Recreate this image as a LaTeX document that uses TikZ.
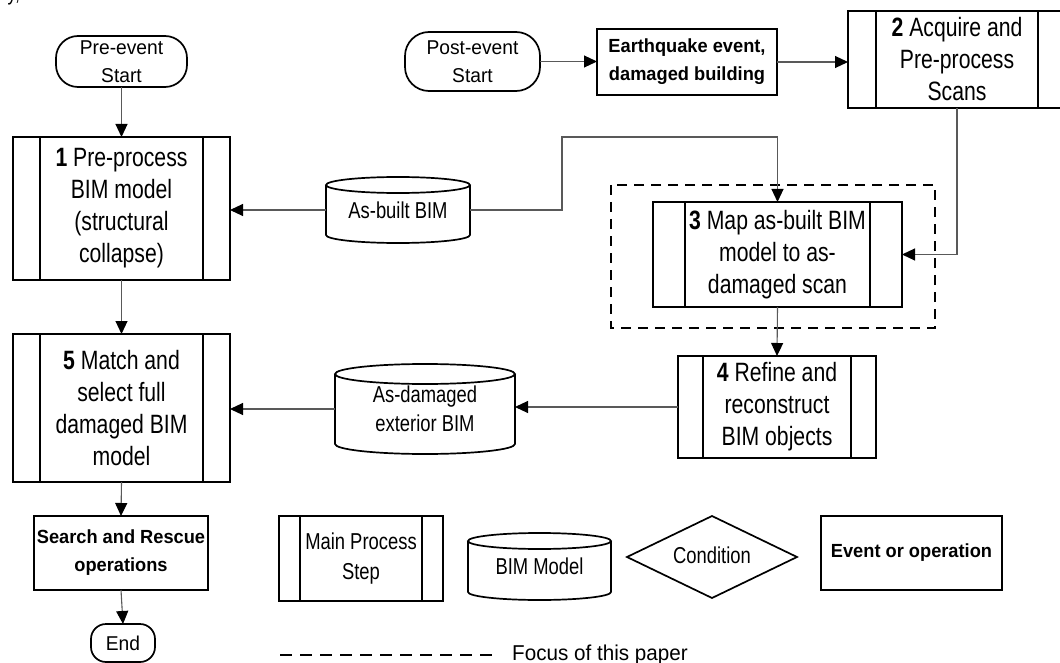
\documentclass[tikz,border=0pt]{standalone}
\usepackage{fontspec}
\setmainfont{Liberation Sans}[FakeStretch=0.8]
\newfontfamily\widefont{Liberation Sans}[FakeStretch=0.96]
\usetikzlibrary{arrows.meta,calc}
\tikzset{
  boxline/.style={draw=black, line width=1.7pt},
  proc/.style={boxline, rectangle, outer sep=0pt, inner sep=0pt, align=center,
    font=\fontsize{26.5}{32}\selectfont,
    path picture={\draw[line width=1.7pt]
      ([xshift=#1]path picture bounding box.north west) -- ([xshift=#1]path picture bounding box.south west)
      ([xshift=-#1]path picture bounding box.north east) -- ([xshift=-#1]path picture bounding box.south east);}},
  proc/.default=27pt,
  term/.style={boxline, rectangle, rounded corners=#1, outer sep=0pt, inner sep=0pt, align=center,
    font=\widefont\fontsize{20}{28}\selectfont},
  evt/.style={boxline, rectangle, outer sep=0pt, inner sep=0pt, align=center,
    font=\widefont\bfseries\fontsize{19}{28}\selectfont},
  cylbox/.style={rectangle, outer sep=0pt, inner sep=0pt, align=center,
    font=\fontsize{23}{29}\selectfont},
  conn/.style={draw=black!65, line width=1.1pt, -{Triangle[length=13pt,width=12pt,color=black]}},
  focus/.style={draw=black, line width=2.6pt, dash pattern=on 10pt off 7pt},
}
\newcommand\drawcyl[2]{%
  \draw[boxline] let \p1=(#1.north west), \p2=(#1.south east), \n1={(\x2-\x1)/2} in
    ({\x1},{\y1-#2pt}) -- ({\x1},{\y2+#2pt})
    arc[start angle=180, end angle=360, x radius=\n1, y radius=#2pt]
    -- ({\x2},{\y1-#2pt})
    ({\x1+\n1},{\y1-#2pt}) ellipse[x radius=\n1, y radius=#2pt];
}
\begin{document}
\begin{tikzpicture}[x=1pt,y=1pt]
\useasboundingbox (0,0) rectangle (1060,-663);
\clip (0,0) rectangle (1060,-663);
\fill[white] (0,0) rectangle (1060,-663);

\node[anchor=base west, font=\fontsize{22}{26}\selectfont] (frag) at (4,-0.5) {y,};

% focus frame
\draw[focus] (611,-185) rectangle (935,-328);

% main nodes
\node[term=22pt, minimum width=131pt, minimum height=51pt] (pre) at (121.5,-61.5) {Pre-event\\Start};
\node[proc, minimum width=217pt, minimum height=143pt] (b1) at (121.5,-208.5)
  {\textbf{1} Pre-process\\BIM model\\(structural\\collapse)};
\node[cylbox, minimum width=144pt, minimum height=66pt] (asb) at (398,-210) {As-built BIM};
\drawcyl{asb}{8}
\node[term=24pt, minimum width=135pt, minimum height=59pt] (post) at (472.5,-61.5) {Post-event\\Start};
\node[evt, minimum width=180pt, minimum height=66pt] (eq) at (687,-62) {Earthquake event,\\damaged building};
\node[proc=28pt, minimum width=218pt, minimum height=97pt] (b2) at (957,-59.5)
  {\textbf{2} Acquire and\\Pre-process\\Scans};
\node[proc=32pt, minimum width=249pt, minimum height=105pt] (b3) at (777.5,-254.5)
  {\textbf{3} Map as-built BIM\\model to as-\\damaged scan};
\node[proc=25pt, minimum width=198pt, minimum height=102pt] (b4) at (777,-407)
  {\textbf{4} Refine and\\reconstruct\\BIM objects};
\node[cylbox, minimum width=180pt, minimum height=90pt] (asd) at (425,-409) {As-damaged\\exterior BIM};
\drawcyl{asd}{10}
\node[proc, minimum width=217pt, minimum height=148pt] (b5) at (121.5,-408)
  {\textbf{5} Match and\\select full\\damaged BIM\\model};
\node[evt, minimum width=174pt, minimum height=74pt] (sar) at (121,-553) {Search and Rescue\\operations};
\node[term=15pt, minimum width=64pt, minimum height=38pt] (end) at (123,-643) {End};

% connectors
\draw[conn] (pre.south) -- (b1.north);
\draw[conn] (asb.west) -- (asb.west -| b1.east);
\draw[conn] (post.east) -- (post.east -| eq.west);
\draw[conn] (eq.east) -- (eq.east -| b2.west);
\draw[conn] (asb.east) -- ++(92,0) |- ($(b3.north)+(0,65)$) -- (b3.north);
\draw[conn] (b2.south) |- (b3.east);
\draw[conn] (b3.south) -- (b4.north);
\draw[conn] (b4.west) -- (b4.west -| asd.east);
\draw[conn] (asd.west) -- (asd.west -| b5.east);
\draw[conn] (b1.south) -- (b5.north);
\draw[conn] (b5.south) -- (sar.north);
\draw[conn] (sar.south) -- (end.north);

% legend
\node[proc=21pt, minimum width=164pt, minimum height=85pt, font=\fontsize{23}{30}\selectfont] (lproc) at (361,-558.5) {Main Process\\Step};
\node[cylbox, minimum width=143pt, minimum height=67pt] (lcyl) at (539.5,-566.5) {BIM Model};
\drawcyl{lcyl}{8}
\node[cylbox] (lcond) at (712,-555) {Condition};
\draw[boxline] (627,-557) -- (712,-516) -- (797,-557) -- (712,-598) -- cycle;
\node[evt, minimum width=181pt, minimum height=74pt] (levt) at (911.5,-553) {Event or operation};
\coordinate (fl1) at (280,-655);
\coordinate (fl2) at (495,-655);
\draw[focus, dash pattern=on 12pt off 8pt] (fl1) -- (fl2);
\node[anchor=west, font=\widefont\fontsize{21.5}{26}\selectfont, inner sep=0pt] (lfocus) at (512,-655) {Focus of this paper};
\end{tikzpicture}
\end{document}
